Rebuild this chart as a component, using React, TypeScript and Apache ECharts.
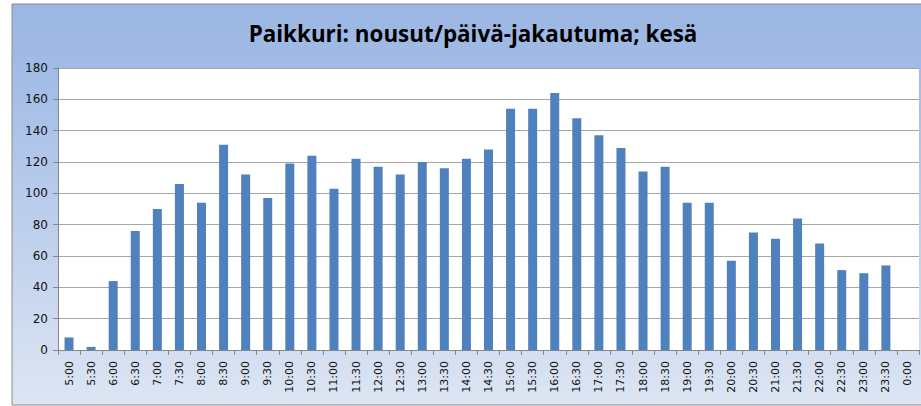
import React, { useEffect, useRef } from "react";
import * as echarts from "echarts";

const titleText = "Paikkuri: nousut/päivä-jakautuma; kesä";

const categories = [
  "5:00", "5:30", "6:00", "6:30", "7:00", "7:30", "8:00", "8:30", "9:00", "9:30",
  "10:00", "10:30", "11:00", "11:30", "12:00", "12:30", "13:00", "13:30", "14:00", "14:30",
  "15:00", "15:30", "16:00", "16:30", "17:00", "17:30", "18:00", "18:30", "19:00", "19:30",
  "20:00", "20:30", "21:00", "21:30", "22:00", "22:30", "23:00", "23:30", "0:00",
];

const boardings = [
  8, 2, 44, 76, 90, 106, 94, 131, 112, 97,
  119, 124, 103, 122, 117, 112, 120, 116, 122, 128,
  154, 154, 164, 148, 137, 129, 114, 117, 94, 94,
  57, 75, 71, 84, 68, 51, 49, 54, 0,
];

const yMin = 0;
const yMax = 180;
const yInterval = 20;

export default function App() {
  const ref = useRef<HTMLDivElement>(null);

  useEffect(() => {
    if (!ref.current) return;
    const chart = echarts.init(ref.current, undefined, { renderer: "svg" });
    chart.setOption({
      animation: false,
      backgroundColor: "#ffffff",
      graphic: [
        {
          type: "rect",
          z: -10,
          shape: { x: 12, y: 4, width: 930, height: 401 },
          style: {
            fill: new echarts.graphic.LinearGradient(0, 0, 0, 1, [
              { offset: 0, color: "#9cb6e3" },
              { offset: 0.15, color: "#a1bbe6" },
              { offset: 1, color: "#dde5f3" },
            ]),
            stroke: "#8a8a8a",
            lineWidth: 1,
          },
        },
        {
          type: "text",
          z: 10,
          x: 473,
          y: 33,
          style: {
            text: titleText,
            fontFamily: "'Open Sans', sans-serif",
            fontWeight: "bold",
            fontSize: 22.4,
            fill: "#000000",
            textAlign: "center",
            textVerticalAlign: "middle",
          },
        },
      ],
      grid: {
        left: 58,
        top: 68,
        width: 861,
        bottom: 56,
        show: true,
        backgroundColor: "#ffffff",
        borderWidth: 0,
      },
      xAxis: {
        type: "category",
        data: categories,
        boundaryGap: true,
        axisLine: { show: true, lineStyle: { color: "#868686", width: 1 } },
        axisTick: { show: true, alignWithLabel: false, length: 5, lineStyle: { color: "#868686" } },
        axisLabel: {
          interval: 0,
          rotate: 90,
          margin: 11,
          fontFamily: "'DejaVu Sans', sans-serif",
          fontSize: 11,
          color: "#111111",
        },
        splitLine: { show: false },
      },
      yAxis: {
        type: "value",
        min: yMin,
        max: yMax,
        interval: yInterval,
        axisLine: { show: true, lineStyle: { color: "#868686", width: 1 } },
        axisTick: { show: true, length: 5, lineStyle: { color: "#868686" } },
        axisLabel: {
          margin: 10,
          fontFamily: "'DejaVu Sans', sans-serif",
          fontSize: 12,
          color: "#111111",
        },
        splitLine: { show: true, lineStyle: { color: "#a6a6a6", width: 1 } },
      },
      series: [
        {
          type: "bar",
          data: boardings,
          barWidth: 9,
          itemStyle: {
            color: "#4f81bd",
          },
        },
      ],
    });
    return () => chart.dispose();
  }, []);

  return (
    <div
      ref={ref}
      style={{ position: "fixed", left: 0, top: 0, width: 921, height: 406 }}
    />
  );
}
